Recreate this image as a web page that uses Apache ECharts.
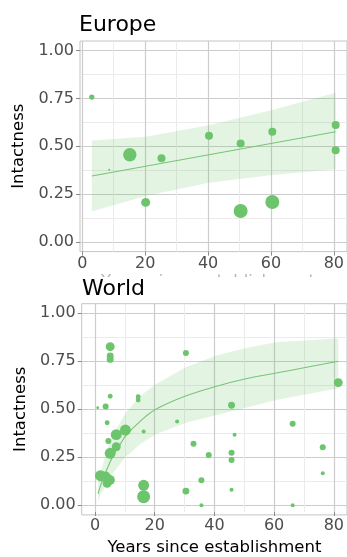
<!DOCTYPE html>
<html>
<head>
<meta charset="utf-8">
<script src="https://cdn.jsdelivr.net/npm/echarts@6/dist/echarts.min.js"></script>
<style>html,body{margin:0;padding:0;background:#fff;}#c{width:347px;height:557px;}</style>
</head>
<body>
<div id="c"></div>
<script>
// ---------- Europe ----------
const euX = [3, 8.5, 15, 20, 25, 40, 50, 50, 60, 60, 80, 80];
const euY = [0.757, 0.378, 0.456, 0.207, 0.437, 0.555, 0.515, 0.162, 0.576, 0.209, 0.611, 0.480];
const euWeight = [7, 1, 45, 20, 16, 16, 16, 49, 16, 49, 16, 16];
const euFitX = [3, 80];
const euFitY = [0.345, 0.576];
const euBandX = [3, 20, 40, 60, 80];
const euBandLo = [0.16, 0.24, 0.31, 0.35, 0.38];
const euBandHi = [0.53, 0.55, 0.61, 0.69, 0.78];

// ---------- World ----------
const wX = [0.9, 3.5, 5.0, 5.0, 5.0, 5.0, 4.0, 4.4, 7.0, 10.0, 7.0, 5.0, 1.8, 3.5, 4.0, 4.9,
            14.2, 14.2, 16.0, 16.0, 16.0, 29.9, 27.0, 32.4, 37.4, 35.0, 29.9, 35.0,
            44.9, 45.9, 44.9, 44.9, 44.9, 65.0, 65.0, 74.9, 74.9, 80.0];
const wY = [0.508, 0.514, 0.826, 0.778, 0.760, 0.568, 0.430, 0.335, 0.368, 0.392, 0.305, 0.271, 0.154, 0.150, 0.115, 0.132,
            0.566, 0.548, 0.385, 0.104, 0.045, 0.793, 0.436, 0.321, 0.262, 0.130, 0.074, 0.0,
            0.521, 0.368, 0.274, 0.236, 0.081, 0.425, 0.0, 0.302, 0.167, 0.639];
const wWeight = [2, 9, 20, 12, 12, 6, 6, 9, 30, 30, 20, 30, 30, 25, 20, 25,
                 6, 6, 4, 30, 42, 9, 4, 9, 9, 9, 12, 4,
                 12, 4, 9, 9, 4, 9, 4, 9, 4, 20];
const wFitX = [1, 2, 4, 6, 8, 10, 15, 20, 30, 40, 50, 60, 70, 80];
const wFitY = [0.06, 0.11, 0.19, 0.26, 0.31, 0.36, 0.44, 0.50, 0.57, 0.62, 0.66, 0.69, 0.72, 0.75];
const wBandX = [1, 2, 4, 6, 10, 15, 20, 30, 40, 50, 60, 70, 80];
const wBandLo = [0.02, 0.06, 0.12, 0.17, 0.25, 0.32, 0.37, 0.43, 0.47, 0.51, 0.55, 0.58, 0.61];
const wBandHi = [0.12, 0.18, 0.29, 0.37, 0.48, 0.57, 0.63, 0.72, 0.78, 0.82, 0.85, 0.86, 0.87];

const xTickMin = 0, xTickMax = 80, xTickStep = 20;
const yTickMin = 0, yTickMax = 1, yTickStep = 0.25;
const titles = ['Europe', 'World'];
const yTitle = 'Intactness';
const xTitle = 'Years since establishment';

const FONT = 'DejaVu Sans';
const PT = '#6cc46c';
const MAJ = '#cccccc', MIN = '#ebebeb';

const chart = echarts.init(document.getElementById('c'), null, {renderer: 'canvas'});

// panel geometry (pixels)
const P = [
  {L: 80, W: 267, T: 41, H: 210.6, x0: 82.3, x80: 335.7, y1: 50.5, y0: 242, xmin: -0.726, xmax: 83.58, lblM: 4.5, nameGap: 20, yGap: 46},
  {L: 81.7, W: 265.3, T: 303.7, H: 211.2, x0: 95, x80: 338.3, y1: 313.3, y0: 505.3, xmin: -4.37, xmax: 82.87, lblM: 6, nameGap: 27, yGap: 44.5}
];

const grid = [], xAxis = [], yAxis = [];
P.forEach((p, k) => {
  grid.push({left: p.L, top: p.T, width: p.W, height: p.H, show: true, borderColor: '#c4c4c4', borderWidth: 1, backgroundColor: 'transparent'});
  grid.push({left: p.x0, top: p.T, width: p.x80 - p.x0, height: p.H});
  grid.push({left: p.L, top: p.y1, width: p.W, height: p.y0 - p.y1});
  const g = k * 3;
  // data axes
  xAxis.push({type: 'value', gridIndex: g, min: p.xmin, max: p.xmax, show: false});
  yAxis.push({type: 'value', gridIndex: g, min: -0.05, max: 1.05, show: false});
  // vertical grid lines + x labels
  xAxis.push({type: 'value', gridIndex: g + 1, min: xTickMin, max: xTickMax, interval: xTickStep,
    axisLine: {show: false},
    axisTick: {show: true, length: 4, lineStyle: {color: '#8a8a8a'}},
    axisLabel: {show: true, margin: p.lblM, color: '#4d4d4d', fontFamily: FONT, fontSize: 16},
    splitLine: {show: true, lineStyle: {color: MAJ, width: 1.2}},
    minorTick: {show: false, splitNumber: 2},
    minorSplitLine: {show: true, lineStyle: {color: MIN, width: 1}},
    name: xTitle, nameLocation: 'middle', nameGap: p.nameGap,
    nameTextStyle: {color: k === 0 ? '#b5b5b5' : '#000', fontFamily: FONT, fontSize: 16.5}
  });
  yAxis.push({type: 'value', gridIndex: g + 1, min: 0, max: 1, show: false});
  // horizontal grid lines + y labels
  xAxis.push({type: 'value', gridIndex: g + 2, min: 0, max: 1, show: false});
  yAxis.push({type: 'value', gridIndex: g + 2, min: yTickMin, max: yTickMax, interval: yTickStep,
    axisLine: {show: false},
    axisTick: {show: true, length: 4, lineStyle: {color: '#8a8a8a'}},
    axisLabel: {show: true, margin: 6, color: '#4d4d4d', fontFamily: FONT, fontSize: 16,
      formatter: v => v.toFixed(2)},
    splitLine: {show: true, lineStyle: {color: MAJ, width: 1.2}},
    minorTick: {show: false, splitNumber: 2},
    minorSplitLine: {show: true, lineStyle: {color: MIN, width: 1}},
    name: yTitle, nameLocation: 'middle', nameRotate: 90, nameGap: p.yGap,
    nameTextStyle: {color: '#000', fontFamily: FONT, fontSize: 16.5}
  });
});

function band(ax, bx, lo, hi) {
  return {
    type: 'custom', xAxisIndex: ax, yAxisIndex: ax, data: [[bx[0], lo[0]]], silent: true, z: 1,
    renderItem: (params, api) => {
      const pts = [];
      for (let i = 0; i < bx.length; i++) pts.push(api.coord([bx[i], hi[i]]));
      for (let i = bx.length - 1; i >= 0; i--) pts.push(api.coord([bx[i], lo[i]]));
      return {type: 'polygon', shape: {points: pts}, style: {fill: 'rgba(110,195,100,0.19)'}};
    }
  };
}
function fit(ax, fx, fy, smooth) {
  return {type: 'line', xAxisIndex: ax, yAxisIndex: ax, data: fx.map((x, i) => [x, fy[i]]),
    showSymbol: false, symbol: 'none', smooth: smooth, silent: true, z: 2,
    lineStyle: {color: '#78c478', width: 1.1}};
}
function pts(ax, xs, ys, ws) {
  return {type: 'scatter', xAxisIndex: ax, yAxisIndex: ax, data: xs.map((x, i) => [x, ys[i], ws[i]]),
    symbolSize: v => 2 * Math.sqrt(v[2]), itemStyle: {color: PT, opacity: 1}, silent: true, z: 3};
}

chart.setOption({
  animation: false,
  title: [
    {text: titles[0], left: 79, top: 14, padding: 0, z: 10, textStyle: {fontFamily: FONT, fontSize: 22, fontWeight: 'normal', color: '#000'}},
    {text: titles[1], left: 82, top: 278, padding: 0, z: 10, textStyle: {fontFamily: FONT, fontSize: 22, fontWeight: 'normal', color: '#000'}}
  ],
  graphic: [
    {type: 'rect', left: 0, top: 277, z: 5, shape: {width: 347, height: 25}, style: {fill: '#fff'}}
  ],
  grid, xAxis, yAxis,
  series: [
    band(0, euBandX, euBandLo, euBandHi),
    fit(0, euFitX, euFitY, false),
    pts(0, euX, euY, euWeight),
    band(3, wBandX, wBandLo, wBandHi),
    fit(3, wFitX, wFitY, 0.3),
    pts(3, wX, wY, wWeight)
  ]
});
</script>
</body>
</html>
